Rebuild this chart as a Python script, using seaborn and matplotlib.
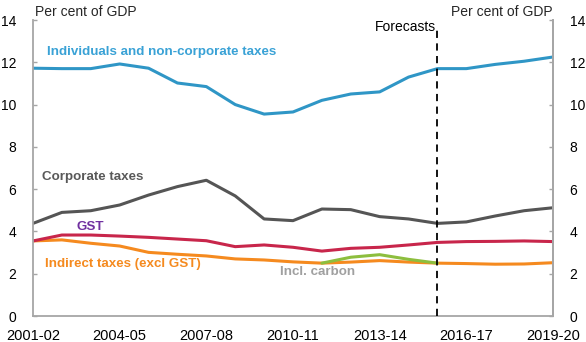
import matplotlib
matplotlib.use("Agg")
import matplotlib.pyplot as plt
import seaborn as sns
import pandas as pd
import numpy as np

years = ["2001-02", "2002-03", "2003-04", "2004-05", "2005-06", "2006-07", "2007-08",
         "2008-09", "2009-10", "2010-11", "2011-12", "2012-13", "2013-14", "2014-15",
         "2015-16", "2016-17", "2017-18", "2018-19", "2019-20"]
individuals = [11.72, 11.70, 11.70, 11.92, 11.72, 11.02, 10.85, 10.0, 9.55, 9.65,
               10.2, 10.5, 10.6, 11.3, 11.7, 11.7, 11.9, 12.05, 12.25]
corporate = [4.38, 4.9, 4.98, 5.25, 5.72, 6.12, 6.42, 5.68, 4.59, 4.51,
             5.06, 5.03, 4.7, 4.59, 4.38, 4.45, 4.73, 4.98, 5.12]
gst = [3.55, 3.83, 3.83, 3.78, 3.72, 3.64, 3.56, 3.28, 3.36, 3.25,
       3.07, 3.2, 3.25, 3.36, 3.48, 3.52, 3.53, 3.55, 3.52]
indirect = [3.55, 3.6, 3.44, 3.31, 3.01, 2.92, 2.84, 2.7, 2.65, 2.56,
            2.5, 2.55, 2.62, 2.55, 2.5, 2.48, 2.45, 2.46, 2.52]
carbon = [None] * 10 + [2.5, 2.78, 2.9, 2.68, 2.5] + [None] * 4
tick_labels = ["2001-02", "2004-05", "2007-08", "2010-11", "2013-14", "2016-17", "2019-20"]
forecast_start = "2015-16"

sns.set_theme(style="white")
plt.rcParams['font.family'] = ['Liberation Sans', 'DejaVu Sans']

idx = np.arange(len(years))
df = pd.DataFrame({"x": idx, "Individuals": individuals, "Corporate": corporate,
                   "GST": gst, "Indirect": indirect,
                   "Carbon": [np.nan if v is None else v for v in carbon]})

fig = plt.figure(figsize=(5.86, 3.42), dpi=100)
ax = fig.add_axes([33 / 586, 26 / 342, 520 / 586, 296 / 342])

lw = 2.2
sns.lineplot(data=df, x="x", y="Carbon", color="#8DBE3E", lw=lw, ax=ax, zorder=3)
sns.lineplot(data=df, x="x", y="Indirect", color="#F58A1F", lw=lw, ax=ax, zorder=2)
sns.lineplot(data=df, x="x", y="GST", color="#C8264B", lw=lw, ax=ax, zorder=2)
sns.lineplot(data=df, x="x", y="Corporate", color="#555555", lw=lw, ax=ax, zorder=2)
sns.lineplot(data=df, x="x", y="Individuals", color="#2F96C6", lw=lw, ax=ax, zorder=2)

ax.set_xlim(0, len(years) - 1)
ax.set_ylim(0, 14)
ax.set_xlabel("")
ax.set_ylabel("")
tick_pos = [years.index(t) for t in tick_labels]
ax.set_xticks(tick_pos)
ax.set_xticklabels(tick_labels, fontsize=10.5, color="black")
ax.set_yticks(range(0, 15, 2))
ax.set_yticklabels([str(v) for v in range(0, 15, 2)], fontsize=10, color="black")

spine_col = "#A6A6A6"
ax.spines["top"].set_visible(False)
for s in ["left", "right", "bottom"]:
    ax.spines[s].set_color(spine_col)
    ax.spines[s].set_linewidth(1.3)
ax.tick_params(axis="x", direction="in", length=6, color=spine_col, width=1, pad=9)
ax.tick_params(axis="y", direction="in", length=3, color=spine_col, width=1, pad=12)

ax2 = ax.twinx()
ax2.set_ylim(0, 14)
ax2.set_yticks(range(0, 15, 2))
ax2.set_yticklabels([str(v) for v in range(0, 15, 2)], fontsize=10, color="black")
ax2.tick_params(axis="y", direction="in", length=3, color=spine_col, width=1, pad=12)
for s in ["top", "left", "bottom"]:
    ax2.spines[s].set_visible(False)
ax2.spines["right"].set_color(spine_col)
ax2.spines["right"].set_linewidth(1.3)

fx = years.index(forecast_start)
ax.axvline(fx, color="black", lw=1.3, ls=(0, (4, 3)), ymax=13.6 / 14, zorder=4)
ax.text(fx - 0.05, 13.65, "Forecasts", ha="right", va="center", fontsize=10, color="black")

fig.text(35 / 586, 1 - 12 / 342, "Per cent of GDP", ha="left", va="center", fontsize=10)
fig.text(553 / 586, 1 - 12 / 342, "Per cent of GDP", ha="right", va="center", fontsize=10)

bold = dict(fontsize=9.6, fontweight="bold")
ax.text(0.5, 12.47, "Individuals and non-corporate taxes", color="#3AA2D6", ha="left", va="center", **bold)
ax.text(0.32, 6.57, "Corporate taxes", color="#595959", ha="left", va="center", **bold)
ax.text(1.52, 4.22, "GST", color="#7030A0", ha="left", va="center", **bold)
ax.text(0.42, 2.45, "Indirect taxes (excl GST)", color="#F58A1F", ha="left", va="center", **bold)
ax.text(8.55, 2.1, "Incl. carbon", color="#A0A0A0", ha="left", va="center", **bold)

fig.savefig("out.png", dpi=100)
